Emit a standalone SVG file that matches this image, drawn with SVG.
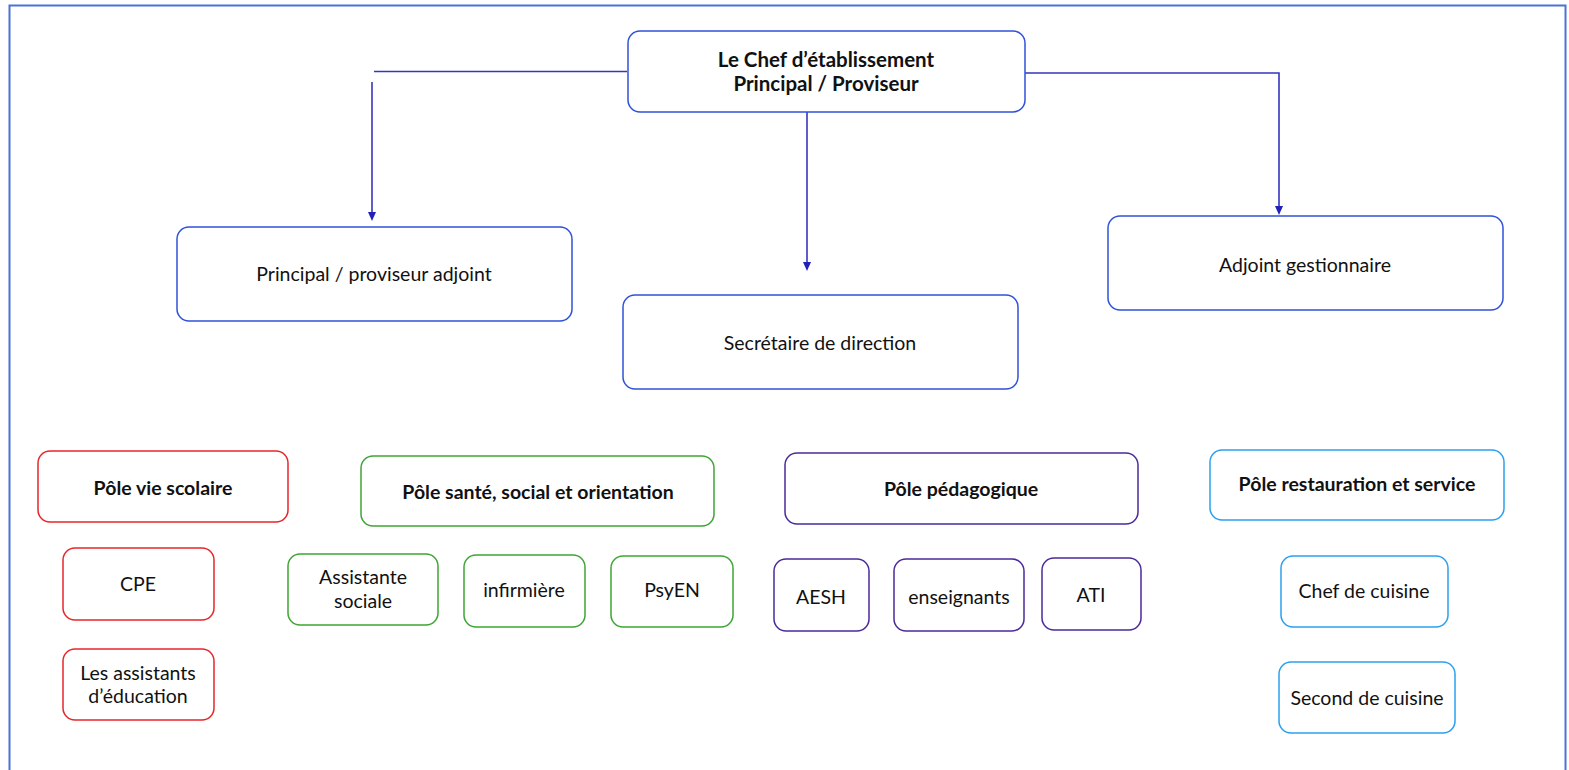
<svg xmlns="http://www.w3.org/2000/svg" width="1569" height="770" viewBox="0 0 1569 770">
<style>
text{font-family:Lato,"Liberation Sans",Arial,sans-serif;font-size:19.5px;fill:#111;text-anchor:middle;}
.b{font-weight:bold;}
.t{font-size:20.5px;}
.box{fill:#fff;stroke-width:1.5;}
.blue{stroke:#2f52d8;}
.red{stroke:#e8262a;}
.green{stroke:#3fa535;}
.purple{stroke:#4b2a9a;}
.sky{stroke:#2ba0ef;}
.conn{stroke:#3535c0;stroke-width:1.6;fill:none;}
</style>
<rect x="9.5" y="5.5" width="1556" height="800" fill="none" stroke="#4a74d4" stroke-width="2"/>
<g id="connectors">
<path class="conn" d="M627,71.5 H374"/>
<path class="conn" d="M372,82 V212"/>
<polygon points="368,212 376,212 372,221" fill="#2222b8"/>
<path class="conn" d="M807,112 V262"/>
<polygon points="803,262 811,262 807,271" fill="#2222b8"/>
<path class="conn" d="M1025,73 H1279 V206"/>
<polygon points="1275,206 1283,206 1279,215" fill="#2222b8"/>
</g>
<g id="chef"><rect class="box blue" x="628" y="31" width="397" height="81" rx="12"/><text class="b t" x="826" y="67">Le Chef d’établissement</text><text class="b t" x="826" y="91">Principal / Proviseur</text></g>
<g id="adjoint"><rect class="box blue" x="177" y="227" width="395" height="94" rx="12"/><text x="374" y="281">Principal / proviseur adjoint</text></g>
<g id="secretaire"><rect class="box blue" x="623" y="295" width="395" height="94" rx="12"/><text x="820" y="350">Secrétaire de direction</text></g>
<g id="gestionnaire"><rect class="box blue" x="1108" y="216" width="395" height="94" rx="12"/><text x="1305" y="272">Adjoint gestionnaire</text></g>
<g id="pole-vie"><rect class="box red" x="38" y="451" width="250" height="71" rx="12"/><text class="b" x="163" y="495">Pôle vie scolaire</text></g>
<g id="cpe"><rect class="box red" x="63" y="548" width="151" height="72" rx="12"/><text x="138" y="591">CPE</text></g>
<g id="aed"><rect class="box red" x="63" y="649" width="151" height="71" rx="12"/><text x="138" y="680">Les assistants</text><text x="138" y="703">d’éducation</text></g>
<g id="pole-sante"><rect class="box green" x="361" y="456" width="353" height="70" rx="12"/><text class="b" x="538" y="499">Pôle santé, social et orientation</text></g>
<g id="assistante"><rect class="box green" x="288" y="554" width="150" height="71" rx="12"/><text x="363" y="584">Assistante</text><text x="363" y="608">sociale</text></g>
<g id="infirmiere"><rect class="box green" x="464" y="555" width="121" height="72" rx="12"/><text x="524" y="597">infirmière</text></g>
<g id="psyen"><rect class="box green" x="611" y="556" width="122" height="71" rx="12"/><text x="672" y="597">PsyEN</text></g>
<g id="pole-peda"><rect class="box purple" x="785" y="453" width="353" height="71" rx="12"/><text class="b" x="961" y="496">Pôle pédagogique</text></g>
<g id="aesh"><rect class="box purple" x="774" y="559" width="95" height="72" rx="12"/><text x="821" y="604">AESH</text></g>
<g id="enseignants"><rect class="box purple" x="894" y="559" width="130" height="72" rx="12"/><text x="959" y="604">enseignants</text></g>
<g id="ati"><rect class="box purple" x="1042" y="558" width="99" height="72" rx="12"/><text x="1091" y="602">ATI</text></g>
<g id="pole-resto"><rect class="box sky" x="1210" y="450" width="294" height="70" rx="12"/><text class="b" x="1357" y="491">Pôle restauration et service</text></g>
<g id="chef-cuisine"><rect class="box sky" x="1281" y="556" width="167" height="71" rx="12"/><text x="1364" y="598">Chef de cuisine</text></g>
<g id="second-cuisine"><rect class="box sky" x="1279" y="662" width="176" height="71" rx="12"/><text x="1367" y="705">Second de cuisine</text></g>
</svg>
